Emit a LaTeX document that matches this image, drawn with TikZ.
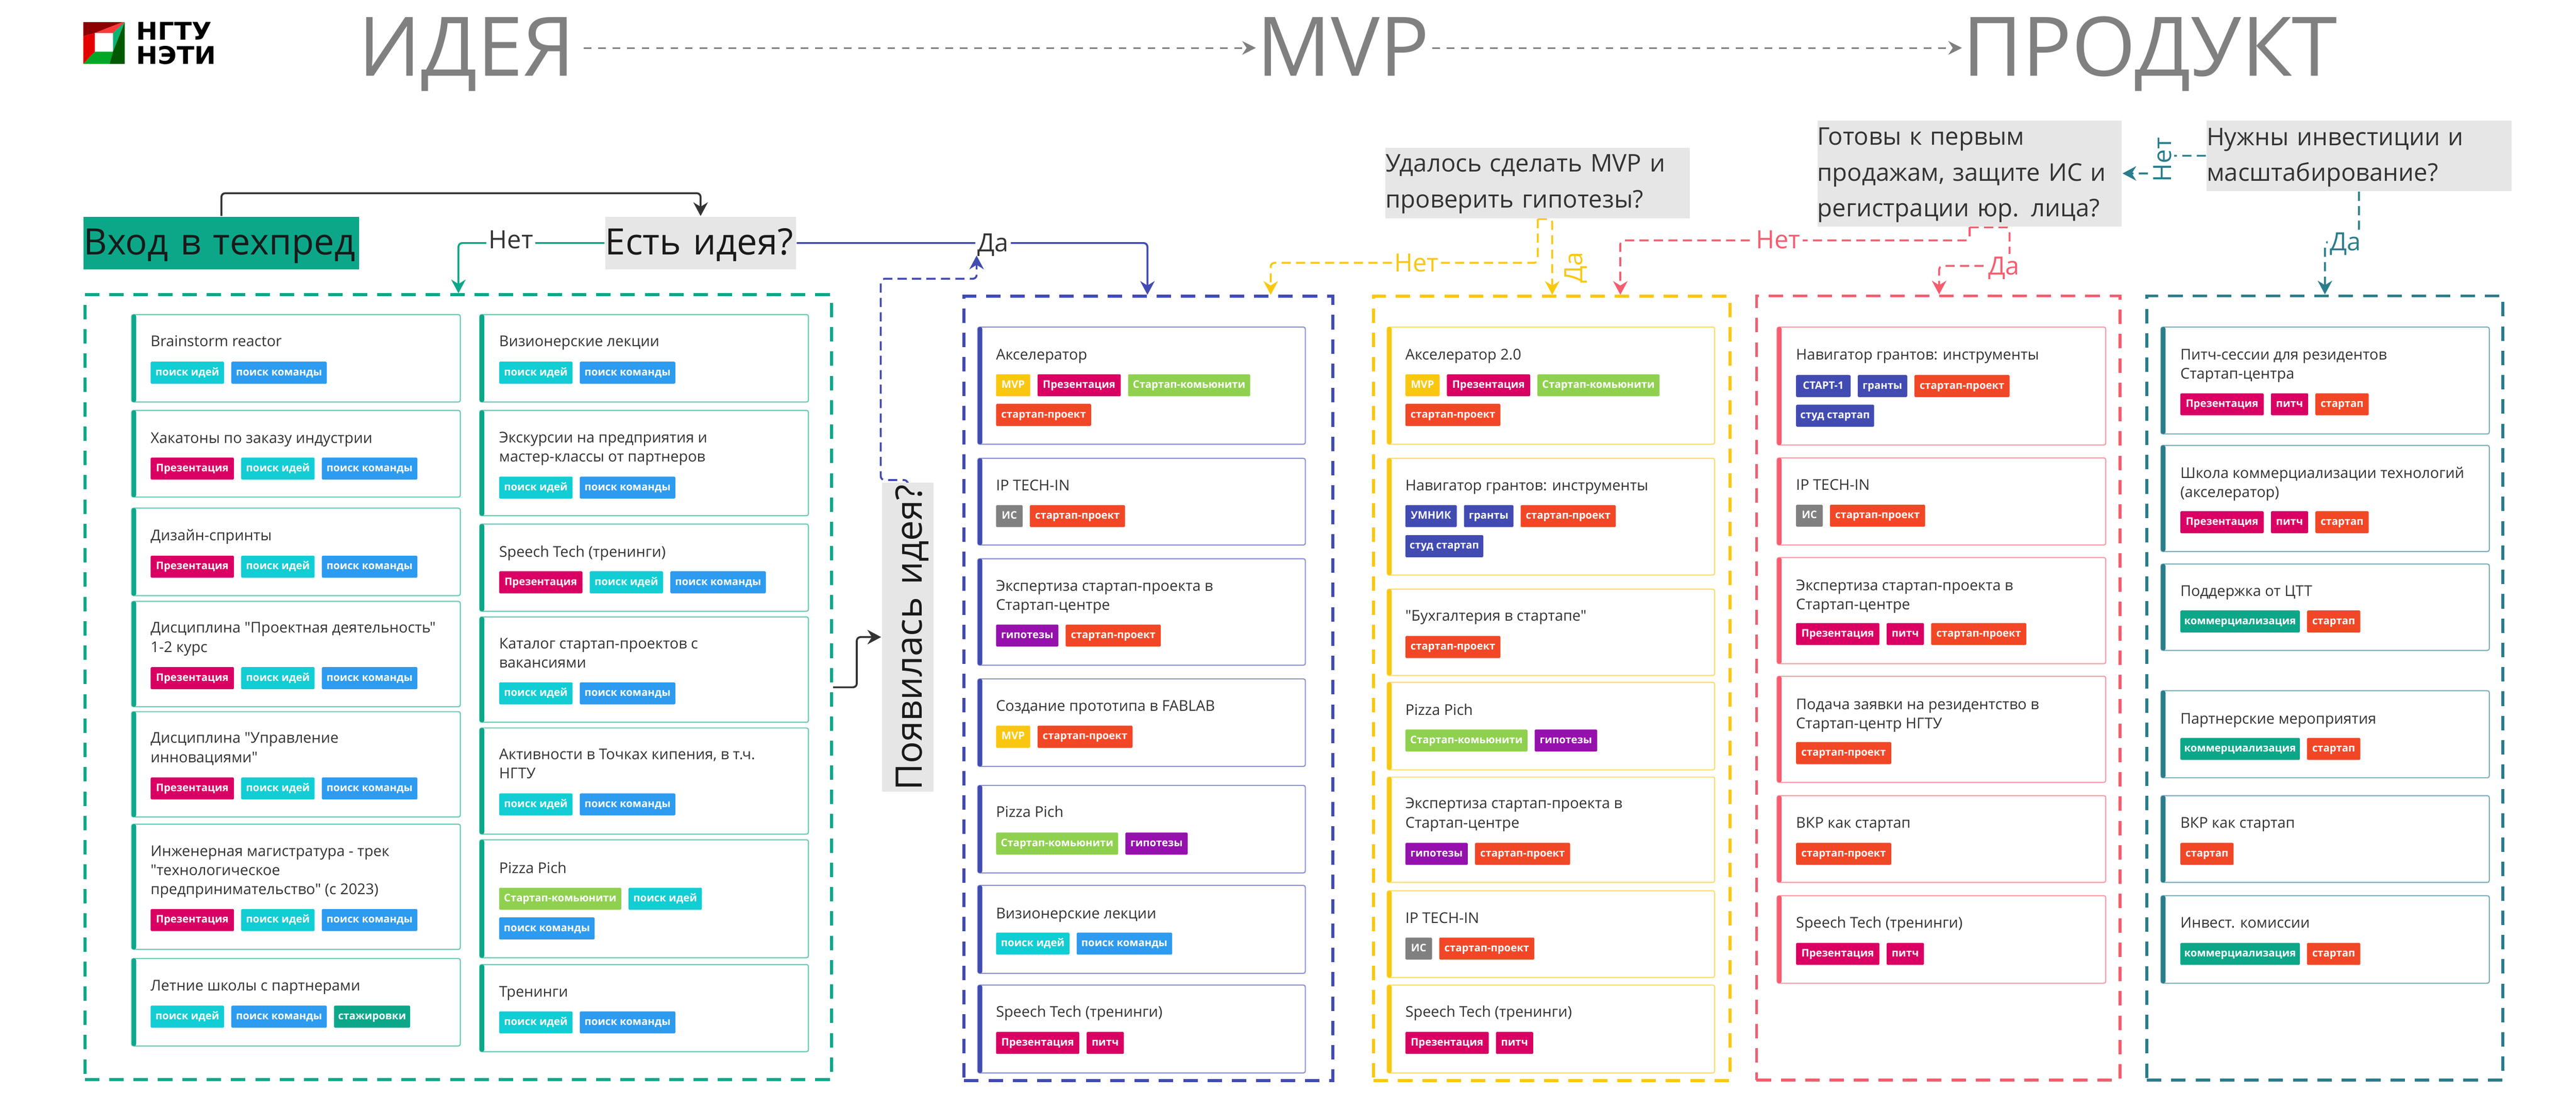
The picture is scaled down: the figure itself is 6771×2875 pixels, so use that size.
\documentclass[tikz,border=0pt]{standalone}
\usepackage{fontspec}
\setmainfont{Open Sans}
\newfontfamily\plainfont{Open Sans}
\newfontfamily\logofont{DejaVu Sans}
\usetikzlibrary{arrows.meta}
\definecolor{cgreen}{HTML}{0CA789}
\definecolor{cblue}{HTML}{414BB2}
\definecolor{cyellow}{HTML}{FAC710}
\definecolor{cpink}{HTML}{F85C6E}
\definecolor{cteal}{HTML}{2A7D8C}
\definecolor{qgray}{HTML}{E6E6E6}
\definecolor{tgray}{HTML}{808080}
\definecolor{ink}{HTML}{333333}
\definecolor{tcidea}{HTML}{12CDD4}
\definecolor{tcteam}{HTML}{2D9BF0}
\definecolor{tcpres}{HTML}{DA0063}
\definecolor{tcmvp}{HTML}{FAC710}
\definecolor{tccmty}{HTML}{8FD14F}
\definecolor{tcproj}{HTML}{F24726}
\definecolor{tcis}{HTML}{808080}
\definecolor{tchyp}{HTML}{9510AC}
\definecolor{tcumn}{HTML}{414BB2}
\definecolor{tcgr}{HTML}{414BB2}
\definecolor{tcsta}{HTML}{414BB2}
\definecolor{tcstud}{HTML}{414BB2}
\definecolor{tcintern}{HTML}{0CA789}
\definecolor{tckom}{HTML}{0CA789}
\definecolor{tcsp}{HTML}{F24726}
\definecolor{tcpitch}{HTML}{DA0063}
\pgfdeclarelayer{lines}
\pgfsetlayers{lines,main}
\makeatletter
\newcommand\deftag[3]{\@namedef{tl@#1}{#2}\@namedef{tw@#1}{#3}}
\makeatother
\deftag{idea}{поиск идей}{193}
\deftag{team}{поиск команды}{251}
\deftag{pres}{Презентация}{219}
\deftag{mvp}{MVP}{90}
\deftag{cmty}{Стартап-комьюнити}{321}
\deftag{proj}{стартап-проект}{250}
\deftag{is}{ИС}{70}
\deftag{hyp}{гипотезы}{164}
\deftag{umn}{УМНИК}{135}
\deftag{gr}{гранты}{130}
\deftag{sta}{СТАРТ-1}{143}
\deftag{stud}{студ стартап}{205}
\deftag{intern}{стажировки}{200}
\deftag{kom}{коммерциализация}{314}
\deftag{sp}{стартап}{140}
\deftag{pitch}{питч}{98}
\newcount\tagno
\newcount\titleno
\newcommand\tagrow[3]{%
  \gdef\tgx{#1}%
  \foreach \k in {#3}{%
    \global\advance\tagno by 1
    \node[tagbox, fill=tc\k, minimum width=\csname tw@\k\endcsname*0.1pt] (tag\the\tagno) at (\tgx,#2) {\csname tl@\k\endcsname};
    \pgfmathsetmacro\nx{\tgx+\csname tw@\k\endcsname+19}
    \xdef\tgx{\nx}
  }}
\newcommand\card[6]{%
  \node[cardbox, draw=#6!60, minimum width={(#4-#2)*0.1pt}, minimum height={(#5-#3)*0.1pt}] (#1) at ({(#2+#4)/2},{(#3+#5)/2}) {};
  \fill[#6, rounded corners=.5pt] (#2,#3) rectangle (#2+12,#5);}
\newcommand\ctitle[3]{%
  \global\advance\titleno by 1
  \node[titlebox] (ttl\the\titleno) at (#1,#2-32) {\rule{0pt}{3.2pt}#3};}
\tikzset{
  tagbox/.style={anchor=north west, inner sep=0, minimum height=5.8pt, rounded corners=.25pt, text=white,
    font=\fontsize{2.75pt}{3pt}\selectfont\bfseries, text height=2pt, text depth=.5pt, align=center},
  cardbox/.style={fill=white, line width=.3pt, rounded corners=.5pt, inner sep=0},
  titlebox/.style={anchor=north west, inner sep=0, align=left, text=ink, font=\plainfont\fontsize{3.9pt}{5.05pt}\selectfont},
  framebox/.style={line width=.8pt, dash pattern=on 3.8pt off 2.6pt, inner sep=0, fill=none},
  bigq/.style={inner sep=0, font=\fontsize{9.55pt}{11pt}\selectfont, text=black!90, text height=8pt, text depth=1.8pt, align=left},
  midq/.style={fill=qgray, inner sep=0, font=\fontsize{6.4pt}{9.4pt}\selectfont, text=ink, align=left},
  hugetitle/.style={anchor=base west, inner sep=0, text=tgray, font=\fontsize{21.6pt}{24pt}\selectfont, text height=15.4pt, text depth=.6pt},
  lbl/.style={fill=white, inner sep=.6pt, font=\fontsize{6.6pt}{7pt}\selectfont, text height=4.8pt, text depth=.2pt},
  link/.style={line width=.5pt, rounded corners=1pt, -{Stealth[length=3.6pt,width=3.8pt]}},
  dlink/.style={link, dash pattern=on 2.4pt off 1.4pt},
  tlink/.style={line width=.4pt, dash pattern=on 2pt off 1.8pt, tgray, -{Stealth[length=3.6pt,width=3.6pt]}},
}
\begin{document}
\begin{tikzpicture}[x=0.1pt,y=-0.1pt]
\useasboundingbox (0,0) rectangle (6771,2875);
% logo
\fill[red!55!black] (219,58) -- (323,58) -- (249,87) -- (219,95) -- cycle;
\fill[red!70!pink] (323,58) -- (328,58) -- (297,87) -- (249,87) -- cycle;
\fill[red!90!black] (219,95) -- (249,87) -- (249,136) -- (219,168) -- cycle;
\fill[green!60!black!85!cyan] (219,168) -- (249,136) -- (297,136) -- (288,168) -- cycle;
\fill[cgreen!85!green] (328,58) -- (297,87) -- (297,136) -- cycle;
\fill[green!35!black] (328,58) -- (328,168) -- (288,168) -- (297,136) -- cycle;
\node[anchor=base west, inner sep=0, font=\logofont\bfseries\fontsize{6.4pt}{7pt}\selectfont] (logoa) at (356,105) {\scalebox{1.06}[1]{НГТУ}};
\node[anchor=base west, inner sep=0, font=\logofont\bfseries\fontsize{6.4pt}{7pt}\selectfont] (logob) at (356,168) {\scalebox{1.06}[1]{НЭТИ}};
% header
\node[hugetitle] (tIdea) at (940,200) {ИДЕЯ};
\node[hugetitle] (tMvp) at (3301,200) {MVP};
\node[hugetitle] (tProd) at (5157,200) {ПРОДУКТ};
% question boxes
\node[bigq, fill=cgreen, minimum width=72.4pt, minimum height=13.8pt, text width=72.4pt] (entry) at (582,639) {Вход в техпред};
\node[bigq, fill=qgray, minimum width=50.1pt, minimum height=13.8pt, text width=50.1pt] (qidea) at (1841.5,639) {Есть идея?};
\node[bigq, fill=qgray, rotate=90, minimum width=81.2pt, minimum height=13.6pt, text width=80.5pt, text height=9pt, text depth=1.6pt, font=\fontsize{9.6pt}{11pt}\selectfont] (qappear) at (2386,1675) {Появилась идея?};
\node[midq, minimum width=80pt, text width=80pt, minimum height=18.6pt] (qmvp) at (4042,481) {\rule{0pt}{6.3pt}Удалось сделать MVP и\\проверить гипотезы?\rule[-2.7pt]{0pt}{0pt}};
\node[midq, minimum width=80pt, text width=80pt, minimum height=27.6pt] (qprod) at (5177,456) {\rule{0pt}{6.5pt}Готовы к первым\\продажам, защите ИС и\\регистрации юр. лица?\rule[-2.6pt]{0pt}{0pt}};
\node[midq, minimum width=80.1pt, text width=80.1pt, minimum height=18.3pt] (qinv) at (6200.5,409.5) {\rule{0pt}{6.5pt}Нужны инвестиции и\\масштабирование?\rule[-2.6pt]{0pt}{0pt}};
% connector labels
\node[lbl, text=ink] (lNoG) at (1343,631) {Нет};
\node[lbl, text=ink] (lYesB) at (2610,638) {Да};
\node[lbl, text=cyellow] (lNoY) at (3723,691) {Нет};
\node[lbl, text=cyellow, rotate=90, fill=none] (lYesY) at (4136,703) {Да};
\node[lbl, text=cpink] (lNoP) at (4674,630) {Нет};
\node[lbl, text=cpink] (lYesP) at (5267,699) {Да};
\node[lbl, text=cteal, rotate=90] (lNoT) at (5684,420) {Нет};
\node[lbl, text=cteal] (lYesT) at (6165,636) {Да};
% frames and connectors
\coordinate (cTop) at (1200,508);
\coordinate (arGreen) at (1205,775);
\coordinate (arBlue) at (3016,779);
\coordinate (loopA) at (2315,1262);
\coordinate (loopB) at (2315,733);
\coordinate (loopC) at (2567,672);
\coordinate (midOut) at (2252,1740);
\coordinate (noY) at (3340,691);
\coordinate (yesY) at (4080,779);
\coordinate (noP) at (4259,632);
\coordinate (yesPa) at (5282,699);
\coordinate (yesPb) at (5097,699);
\coordinate (midT) at (5680,432);
\coordinate (yesTa) at (6111,636);
\begin{pgfonlayer}{lines}
\fill[white] (0,0) rectangle (6771,2875);
\node[framebox, draw=cgreen, minimum width=196.3pt, minimum height=206.4pt] (fGreen) at (1204.5,1807) {};
\node[framebox, draw=cblue, minimum width=96.9pt, minimum height=206.2pt] (fBlue) at (3018.5,1810) {};
\node[framebox, draw=cyellow, minimum width=93.7pt, minimum height=206.2pt] (fYellow) at (4079,1810) {};
\node[framebox, draw=cpink, minimum width=95.6pt, minimum height=206.2pt] (fPink) at (5095,1809) {};
\node[framebox, draw=cteal, minimum width=93.6pt, minimum height=206.2pt] (fTeal) at (6111,1809) {};
\draw[tlink, shorten <=2.1pt] (tIdea.east) -- (tMvp.west);
\draw[tlink, shorten <=.6pt] (tMvp.east) -- (tProd.west);
\draw[link, ink] (entry.north) -- (entry.north |- cTop) -- (qidea.north |- cTop) -- (qidea.north);
\draw[link, cgreen] (qidea.west) -| (arGreen |- fGreen.north);
\draw[link, cblue] (qidea.east) -| (arBlue |- fBlue.north);
\draw[dlink, cblue] (qappear.east) |- (loopA) -- (loopB) -| (loopC);
\draw[link, ink] (fGreen.east) -| (midOut) |- (qappear.north);
\draw[dlink, cyellow] (qmvp.south) |- (noY) -- (noY |- fBlue.north);
\draw[dlink, cyellow] (qmvp.south) -| (yesY |- fYellow.north);
\draw[dlink, cpink] (qprod.south) |- (noP) -- (noP |- fYellow.north);
\draw[dlink, cpink] (qprod.south) -| (yesPa) -- (yesPb) -- (yesPb |- fPink.north);
\draw[dlink, cteal] (qinv.west) -| (midT) |- (qprod.east);
\draw[dlink, cteal] (qinv.south) |- (yesTa) -- (yesTa |- fTeal.north);
\end{pgfonlayer}
% column 1
\card{a1}{346}{827}{1210}{1057}{cgreen}\ctitle{394}{909}{Brainstorm reactor}\tagrow{394}{949}{idea,team}
\card{a2}{346}{1079}{1210}{1307}{cgreen}\ctitle{394}{1163}{Хакатоны по заказу индустрии}\tagrow{394}{1201}{pres,idea,team}
\card{a3}{346}{1336}{1210}{1566}{cgreen}\ctitle{394}{1419}{Дизайн-спринты}\tagrow{394}{1459}{pres,idea,team}
\card{a4}{346}{1581}{1210}{1858}{cgreen}\ctitle{394}{1662}{Дисциплина "Проектная деятельность"\\1-2 курс}\tagrow{394}{1752}{pres,idea,team}
\card{a5}{346}{1871}{1210}{2148}{cgreen}\ctitle{394}{1952}{Дисциплина "Управление\\инновациями"}\tagrow{394}{2042}{pres,idea,team}
\card{a6}{346}{2167}{1210}{2496}{cgreen}\ctitle{394}{2249}{Инженерная магистратура - трек\\"технологическое\\предпринимательство" (с 2023)}\tagrow{394}{2388}{pres,idea,team}
\card{a7}{346}{2520}{1210}{2750}{cgreen}\ctitle{394}{2603}{Летние школы с партнерами}\tagrow{394}{2642}{idea,team,intern}
% column 2
\card{b1}{1261}{827}{2125}{1057}{cgreen}\ctitle{1310}{909}{Визионерские лекции}\tagrow{1310}{949}{idea,team}
\card{b2}{1261}{1079}{2125}{1356}{cgreen}\ctitle{1310}{1162}{Экскурсии на предприятия и\\мастер-классы от партнеров}\tagrow{1310}{1251}{idea,team}
\card{b3}{1261}{1378}{2125}{1607}{cgreen}\ctitle{1310}{1463}{Speech Tech (тренинги)}\tagrow{1310}{1500}{pres,idea,team}
\card{b4}{1261}{1622}{2125}{1899}{cgreen}\ctitle{1310}{1703}{Каталог стартап-проектов с\\вакансиями}\tagrow{1310}{1792}{idea,team}
\card{b5}{1261}{1914}{2125}{2193}{cgreen}\ctitle{1310}{1995}{Активности в Точках кипения, в т.ч.\\НГТУ}\tagrow{1310}{2084}{idea,team}
\card{b6}{1261}{2208}{2125}{2518}{cgreen}\ctitle{1310}{2294}{Pizza Pich}\tagrow{1310}{2332}{cmty,idea}\tagrow{1310}{2410}{team}
\card{b7}{1261}{2536}{2125}{2765}{cgreen}\ctitle{1310}{2619}{Тренинги}\tagrow{1310}{2657}{idea,team}
% column 3
\card{c1}{2570}{860}{3431}{1168}{cblue}\ctitle{2616}{944}{Акселератор}\tagrow{2616}{982}{mvp,pres,cmty}\tagrow{2616}{1060}{proj}
\card{c2}{2570}{1205}{3431}{1433}{cblue}\ctitle{2616}{1288}{IP TECH-IN}\tagrow{2616}{1326}{is,proj}
\card{c3}{2570}{1469}{3431}{1749}{cblue}\ctitle{2616}{1552}{Экспертиза стартап-проекта в\\Стартап-центре}\tagrow{2616}{1640}{hyp,proj}
\card{c4}{2570}{1785}{3431}{2015}{cblue}\ctitle{2616}{1868}{Создание прототипа в FABLAB}\tagrow{2616}{1906}{mvp,proj}
\card{c5}{2570}{2065}{3431}{2295}{cblue}\ctitle{2616}{2146}{Pizza Pich}\tagrow{2616}{2187}{cmty,hyp}
\card{c6}{2570}{2328}{3431}{2559}{cblue}\ctitle{2616}{2413}{Визионерские лекции}\tagrow{2616}{2450}{idea,team}
\card{c7}{2570}{2590}{3431}{2821}{cblue}\ctitle{2616}{2672}{Speech Tech (тренинги)}\tagrow{2616}{2711}{pres,pitch}
% column 4
\card{d1}{3646}{860}{4507}{1168}{cyellow}\ctitle{3692}{944}{Акселератор 2.0}\tagrow{3692}{982}{mvp,pres,cmty}\tagrow{3692}{1060}{proj}
\card{d2}{3646}{1205}{4507}{1512}{cyellow}\ctitle{3692}{1288}{Навигатор грантов: инструменты}\tagrow{3692}{1326}{umn,gr,proj}\tagrow{3692}{1405}{stud}
\card{d3}{3646}{1549}{4507}{1776}{cyellow}\ctitle{3692}{1631}{"Бухгалтерия в стартапе"}\tagrow{3692}{1670}{proj}
\card{d4}{3646}{1794}{4507}{2024}{cyellow}\ctitle{3692}{1878}{Pizza Pich}\tagrow{3692}{1916}{cmty,hyp}
\card{d5}{3646}{2043}{4507}{2320}{cyellow}\ctitle{3692}{2124}{Экспертиза стартап-проекта в\\Стартап-центре}\tagrow{3692}{2214}{hyp,proj}
\card{d6}{3646}{2342}{4507}{2570}{cyellow}\ctitle{3692}{2425}{IP TECH-IN}\tagrow{3692}{2463}{is,proj}
\card{d7}{3646}{2590}{4507}{2821}{cyellow}\ctitle{3692}{2672}{Speech Tech (тренинги)}\tagrow{3692}{2711}{pres,pitch}
% column 5
\card{e1}{4671}{860}{5535}{1170}{cpink}\ctitle{4719}{944}{Навигатор грантов: инструменты}\tagrow{4719}{984}{sta,gr,proj}\tagrow{4719}{1062}{stud}
\card{e2}{4671}{1204}{5535}{1433}{cpink}\ctitle{4719}{1287}{IP TECH-IN}\tagrow{4719}{1325}{is,proj}
\card{e3}{4671}{1466}{5535}{1745}{cpink}\ctitle{4719}{1550}{Экспертиза стартап-проекта в\\Стартап-центре}\tagrow{4719}{1636}{pres,pitch,proj}
\card{e4}{4671}{1778}{5535}{2057}{cpink}\ctitle{4719}{1863}{Подача заявки на резидентство в\\Стартап-центр НГТУ}\tagrow{4719}{1949}{proj}
\card{e5}{4671}{2092}{5535}{2320}{cpink}\ctitle{4719}{2175}{ВКР как стартап}\tagrow{4719}{2214}{proj}
\card{e6}{4671}{2355}{5535}{2585}{cpink}\ctitle{4719}{2437}{Speech Tech (тренинги)}\tagrow{4719}{2477}{pres,pitch}
% column 6
\card{g1}{5680}{860}{6543}{1141}{cteal}\ctitle{5729}{944}{Питч-сессии для резидентов\\Стартап-центра}\tagrow{5729}{1032}{pres,pitch,sp}
\card{g2}{5680}{1171}{6543}{1450}{cteal}\ctitle{5729}{1255}{Школа коммерциализации технологий\\(акселератор)}\tagrow{5729}{1342}{pres,pitch,sp}
\card{g3}{5680}{1483}{6543}{1710}{cteal}\ctitle{5729}{1566}{Поддержка от ЦТТ}\tagrow{5729}{1603}{kom,sp}
\card{g4}{5680}{1816}{6543}{2045}{cteal}\ctitle{5729}{1901}{Партнерские мероприятия}\tagrow{5729}{1938}{kom,sp}
\card{g5}{5680}{2092}{6543}{2320}{cteal}\ctitle{5729}{2175}{ВКР как стартап}\tagrow{5729}{2214}{sp}
\card{g6}{5680}{2355}{6543}{2585}{cteal}\ctitle{5729}{2437}{Инвест. комиссии}\tagrow{5729}{2477}{kom,sp}
\end{tikzpicture}
\end{document}
